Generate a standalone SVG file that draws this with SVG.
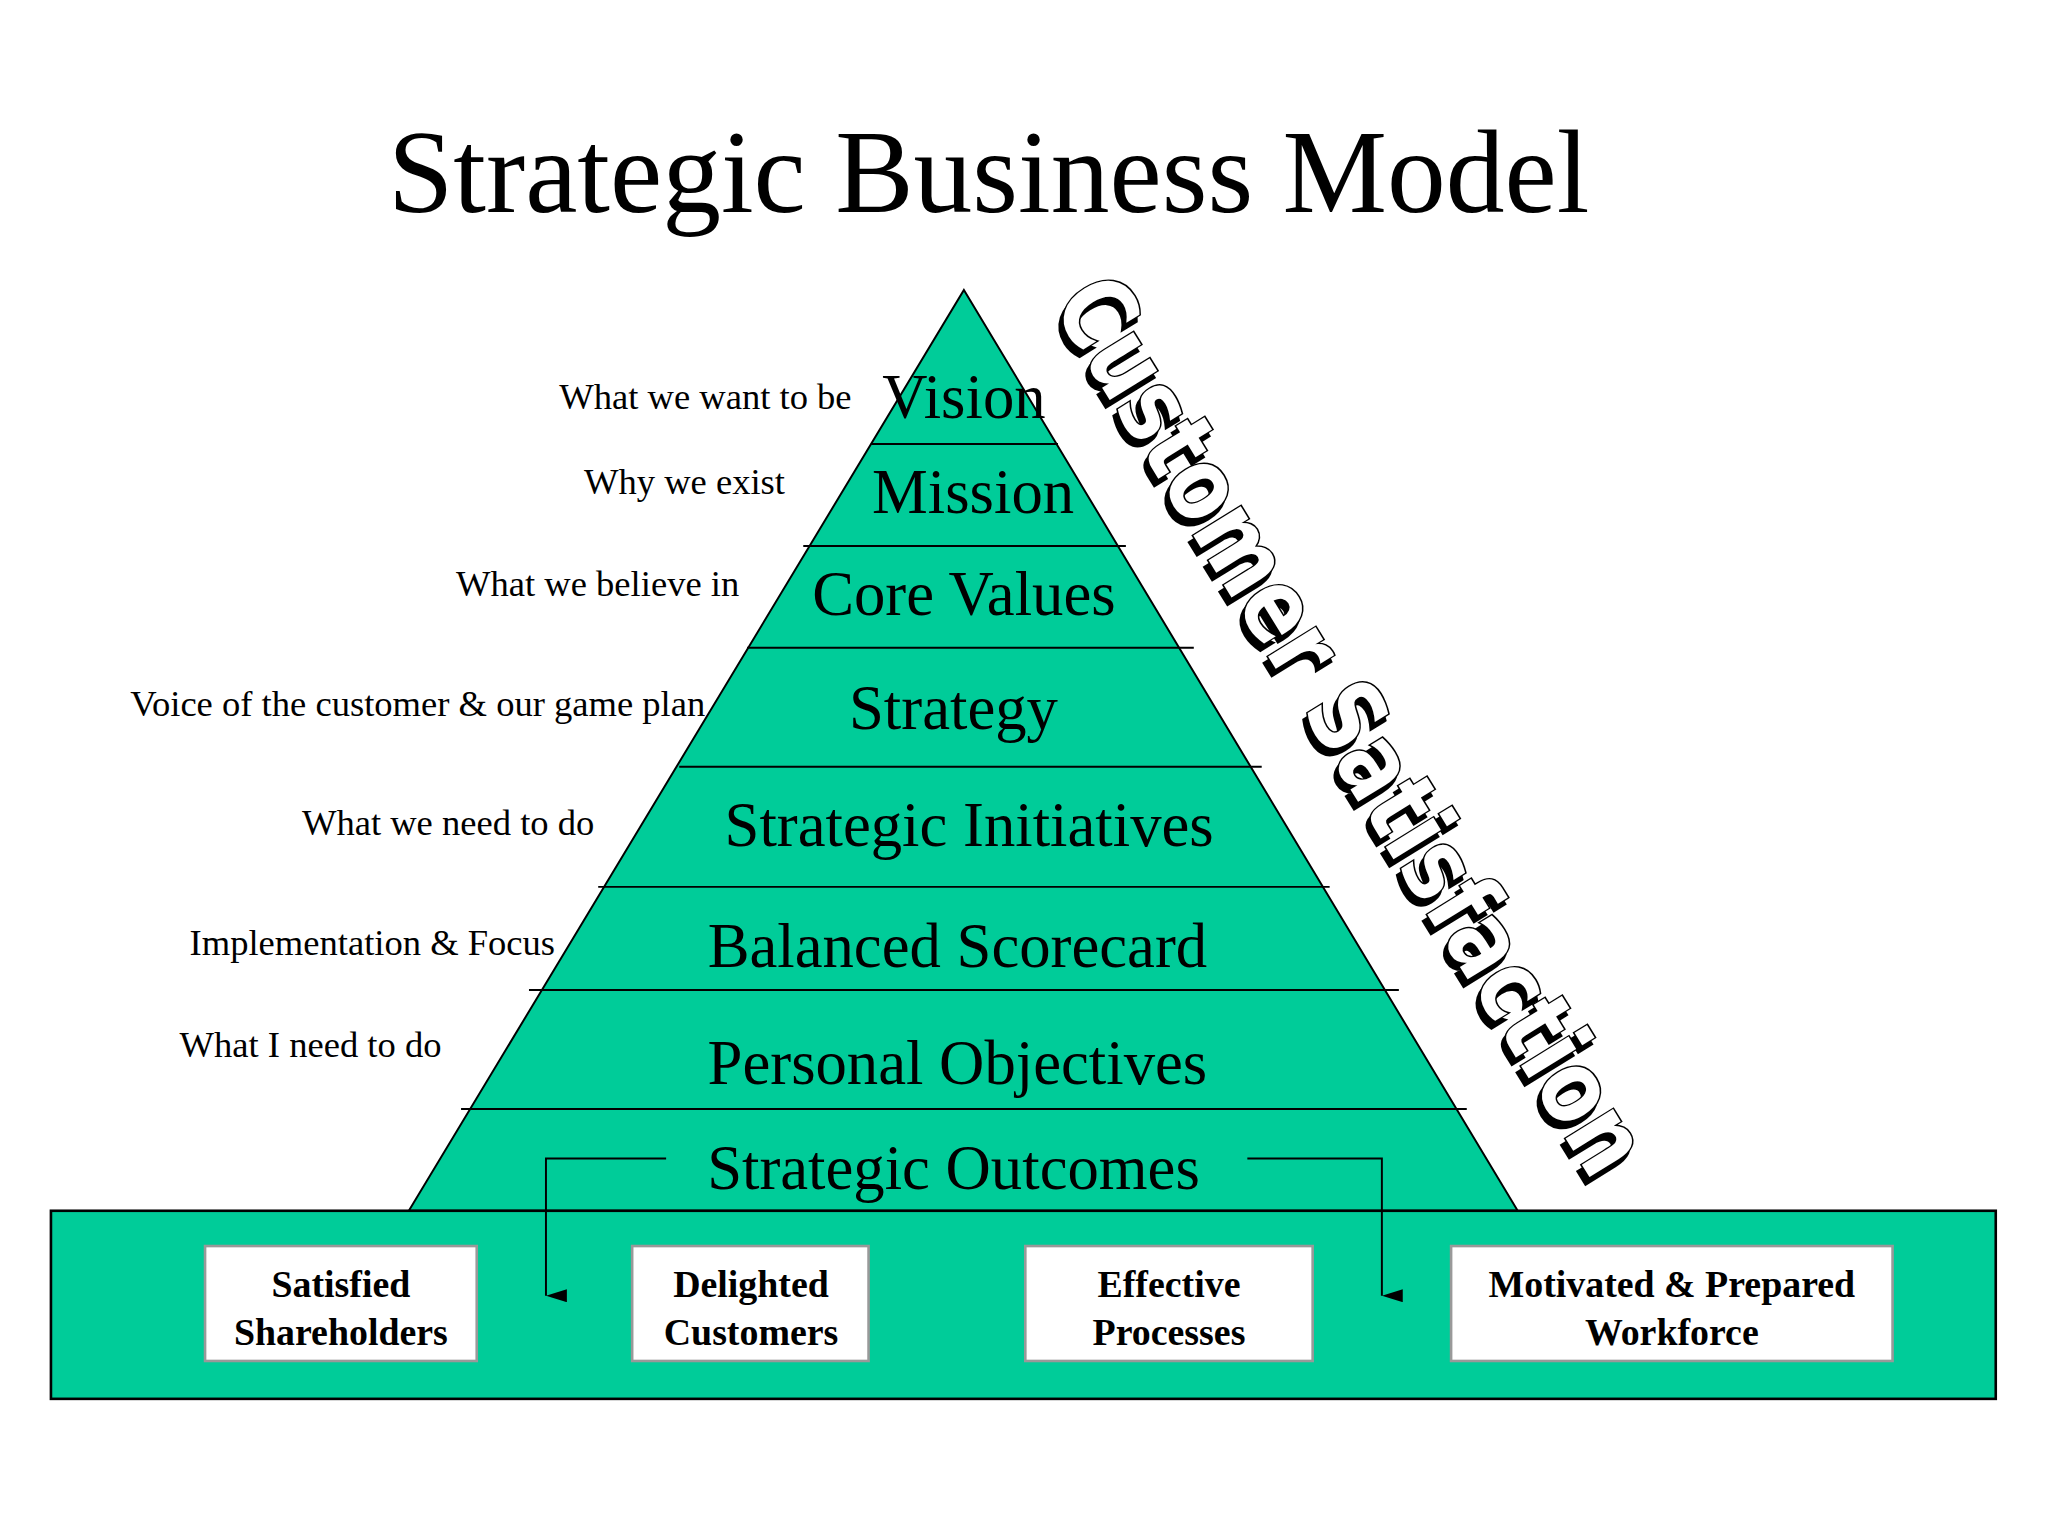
<svg xmlns="http://www.w3.org/2000/svg" width="2048" height="1536" viewBox="0 0 2048 1536">
<style>
.t{font-family:"Liberation Serif",serif;fill:#000}
.lvl{font-size:48px;text-anchor:middle}
.lab{font-size:28px;text-anchor:end}
.box{fill:#fff;stroke:#999;stroke-width:2}
.bt{font-size:29px;font-weight:bold;text-anchor:middle}
.ln{stroke:#000;stroke-width:1.5;fill:none}
.cs{font-family:"DejaVu Sans",sans-serif;font-weight:bold;font-size:78px;text-anchor:middle}
</style>
<defs><marker id="a" markerWidth="10" markerHeight="16" refX="5" refY="16" orient="auto-start-reverse" markerUnits="userSpaceOnUse" viewBox="0 0 10 16"><path d="M0,0 L10,0 L5,16 Z" fill="#000" transform="rotate(0)"/></marker></defs>
<rect width="2048" height="1536" fill="#fff"/>
<g transform="scale(1.30612)">
<text class="t" x="757" y="162" font-size="90" text-anchor="middle">Strategic Business Model</text>
<g id="pyramid">
<polygon points="738,222 1162,927 313,927" fill="#00CC99" stroke="#000" stroke-width="1.5"/>
<path class="ln" d="M667,340H810M615,418H862M572,496H914M520,587H966M458,679H1018M405,758H1071M353,849H1123"/>
</g>
<g id="vision"><text class="t lvl" x="738" y="320">Vision</text><text class="t lab" x="652" y="313">What we want to be</text></g>
<g id="mission"><text class="t lvl" x="745" y="393">Mission</text><text class="t lab" x="601" y="378">Why we exist</text></g>
<g id="core"><text class="t lvl" x="738" y="471">Core Values</text><text class="t lab" x="566" y="456">What we believe in</text></g>
<g id="strategy"><text class="t lvl" x="730" y="558">Strategy</text><text class="t lab" x="540" y="548">Voice of the customer &amp; our game plan</text></g>
<g id="initiatives"><text class="t lvl" x="742" y="648">Strategic Initiatives</text><text class="t lab" x="455" y="639">What we need to do</text></g>
<g id="scorecard"><text class="t lvl" x="733" y="740">Balanced Scorecard</text><text class="t lab" x="425" y="731">Implementation &amp; Focus</text></g>
<g id="personal"><text class="t lvl" x="733" y="830">Personal Objectives</text><text class="t lab" x="338" y="809">What I need to do</text></g>
<g id="outcomebox">
<rect x="39" y="927" width="1489" height="144" fill="#00CC99" stroke="#000" stroke-width="2"/>
</g>
<g id="outcomes"><text class="t lvl" x="730" y="910">Strategic Outcomes</text></g>
<g id="shareholders"><rect class="box" x="157" y="954" width="208" height="88"/><text class="t bt" x="261" y="993">Satisfied</text><text class="t bt" x="261" y="1030">Shareholders</text></g>
<g id="customers"><rect class="box" x="484" y="954" width="181" height="88"/><text class="t bt" x="575" y="993">Delighted</text><text class="t bt" x="575" y="1030">Customers</text></g>
<g id="processes"><rect class="box" x="785" y="954" width="220" height="88"/><text class="t bt" x="895" y="993">Effective</text><text class="t bt" x="895" y="1030">Processes</text></g>
<g id="workforce"><rect class="box" x="1111" y="954" width="338" height="88"/><text class="t bt" x="1280" y="993">Motivated &amp; Prepared</text><text class="t bt" x="1280" y="1030">Workforce</text></g>
<g id="connectors">
<path class="ln" d="M510,887H418V992" marker-end="url(#a)"/>
<path class="ln" d="M955,887H1058V992" marker-end="url(#a)"/>
</g>
<g id="satisfaction" transform="translate(1035,555) rotate(58.3)">
<text class="cs" x="3" y="32" fill="#000" stroke="#000" stroke-width="3" textLength="790" lengthAdjust="spacingAndGlyphs">Customer Satisfaction</text>
<text class="cs" x="0" y="27" fill="#fff" stroke="#000" stroke-width="2.5" paint-order="stroke" textLength="790" lengthAdjust="spacingAndGlyphs">Customer Satisfaction</text>
</g>
</g>
</svg>
